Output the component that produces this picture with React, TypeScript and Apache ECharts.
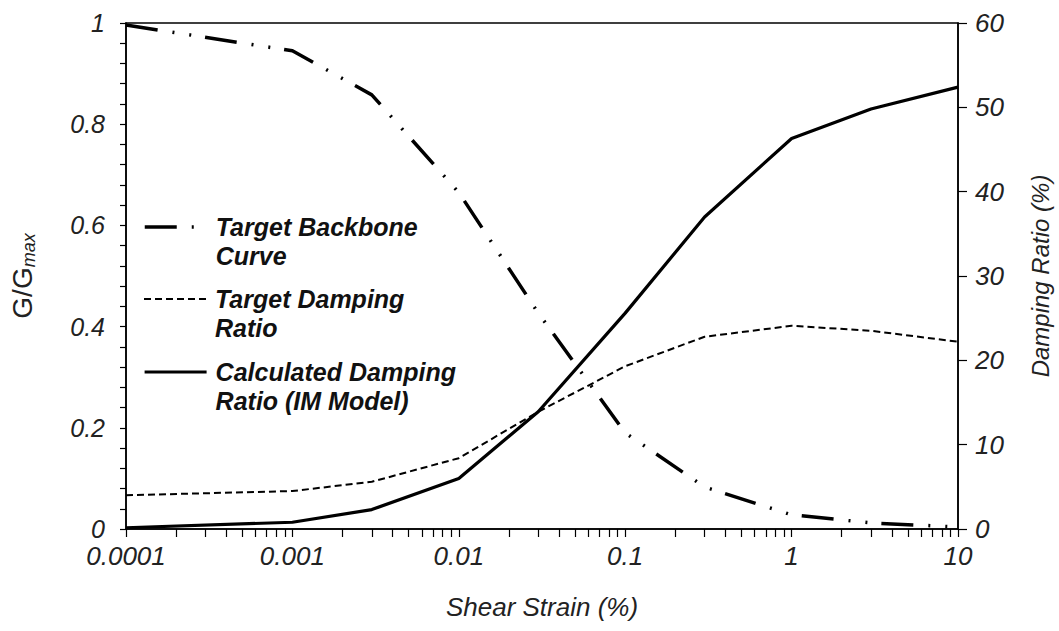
import React, { useEffect, useRef } from "react";
import * as echarts from "echarts";

// Shear strain (%) at which each curve is sampled
const strain = [0.0001, 0.001, 0.003, 0.01, 0.03, 0.1, 0.3, 1, 3, 10];
// G/Gmax of the target backbone curve (left axis)
const backbone = [0.996, 0.945, 0.858, 0.665, 0.427, 0.19, 0.083, 0.028, 0.012, 0.004];
// Target damping ratio, % (right axis)
const targetDamping = [4.0, 4.5, 5.6, 8.4, 13.9, 19.3, 22.8, 24.1, 23.5, 22.2];
// Damping ratio calculated with the IM model, % (right axis)
const calcDamping = [0.15, 0.8, 2.3, 6.0, 13.9, 25.6, 37.0, 46.3, 49.8, 52.4];

const xMajorTicks = [0.0001, 0.001, 0.01, 0.1, 1, 10];
const seriesNames = ["Target Backbone Curve", "Target Damping Ratio", "Calculated Damping Ratio (IM Model)"];
// Leading blank line keeps the key line level with the first text line
const legendLabels = ["\nTarget Backbone\nCurve", "\nTarget Damping\nRatio", "\nCalculated Damping\nRatio (IM Model)"];
const lineWidths = [3.5, 2, 3.2];

const FONT = '"Liberation Sans", Arial, Helvetica, sans-serif';

// Major decades plus 2..9 within each decade
const xAllTicks: number[] = [];
for (let d = 0; d < xMajorTicks.length; d++) {
  const base = xMajorTicks[d];
  xAllTicks.push(base);
  if (d < xMajorTicks.length - 1) {
    for (let k = 2; k <= 9; k++) xAllTicks.push(Number((base * k).toPrecision(6)));
  }
}

const pairs = (ys: number[]) => strain.map((x, i) => [x, ys[i]]);

export default function App() {
  const ref = useRef<HTMLDivElement>(null);

  useEffect(() => {
    document.body.style.margin = "0";
    if (!ref.current) return;
    const chart = echarts.init(ref.current, undefined, { renderer: "svg" });

    const legendTops = [183.5, 255.5, 328.5];
    const legends = seriesNames.map((name, i) => ({
      data: [name],
      left: 143,
      top: legendTops[i],
      orient: "vertical",
      padding: 0,
      itemWidth: 62,
      itemHeight: 14,
      selectedMode: false,
      itemStyle: { opacity: 0 },
      lineStyle: { width: lineWidths[i] },
      formatter: () => legendLabels[i],
      textStyle: {
        fontFamily: FONT,
        fontSize: 25,
        fontWeight: "bold",
        fontStyle: "italic",
        color: "#111",
        lineHeight: 29,
        padding: [0, 0, 0, 4],
      },
    }));

    const labelStyle = {
      fontFamily: FONT,
      fontSize: 25,
      fontStyle: "italic",
      color: "#222",
    };

    chart.setOption({
      animation: false,
      backgroundColor: "#fff",
      grid: {
        left: 126,
        right: 101,
        top: 23,
        bottom: 102,
        show: true,
        borderColor: "#000",
        borderWidth: 1.5,
        containLabel: false,
        outerBoundsMode: "none",
      },
      legend: legends,
      xAxis: {
        type: "log",
        logBase: 10,
        min: 0.0001,
        max: 10,
        name: "Shear Strain (%)",
        nameLocation: "middle",
        nameGap: 65,
        nameTextStyle: { ...labelStyle, fontSize: 26 },
        axisLine: { show: true, lineStyle: { color: "#000", width: 1.5 } },
        axisTick: {
          show: true,
          inside: false,
          length: 8,
          customValues: xAllTicks,
          lineStyle: { color: "#000", width: 1.2 },
        },
        axisLabel: {
          ...labelStyle,
          fontSize: 26,
          lineHeight: 20,
          margin: 17,
          customValues: xMajorTicks,
          formatter: (v: number) => String(v),
        },
        splitLine: { show: false },
        minorTick: { show: false },
      },
      yAxis: [
        {
          type: "value",
          position: "left",
          min: 0,
          max: 1,
          interval: 0.2,
          name: "{a|G/G}{b|max}",
          nameLocation: "middle",
          nameRotate: 90,
          nameGap: 88,
          nameTextStyle: {
            rich: {
              a: { fontFamily: FONT, fontSize: 28, color: "#222" },
              b: { fontFamily: FONT, fontSize: 18, fontStyle: "italic", color: "#222", padding: [14, 0, 0, 0] },
            },
          },
          axisLine: { show: true, lineStyle: { color: "#000", width: 1.5 } },
          axisTick: { show: true, inside: false, length: 6, lineStyle: { color: "#000", width: 1.2 } },
          minorTick: { show: true, splitNumber: 5, length: 6, lineStyle: { color: "#000", width: 1.2 } },
          axisLabel: {
            ...labelStyle,
            lineHeight: 18,
            margin: 21,
            formatter: (v: number) => String(Number(v.toFixed(1))),
          },
          splitLine: { show: false },
        },
        {
          type: "value",
          position: "right",
          min: 0,
          max: 60,
          interval: 10,
          name: "Damping Ratio (%)",
          nameLocation: "middle",
          nameRotate: 90,
          nameGap: 70,
          nameTextStyle: { ...labelStyle, fontSize: 24 },
          axisLine: { show: true, lineStyle: { color: "#000", width: 1.5 } },
          axisTick: { show: true, inside: false, length: 9, lineStyle: { color: "#000", width: 1.2 } },
          axisLabel: { ...labelStyle, fontSize: 26, lineHeight: 20, margin: 17 },
          splitLine: { show: false },
        },
      ],
      series: [
        {
          name: seriesNames[0],
          type: "line",
          yAxisIndex: 0,
          data: pairs(backbone),
          symbol: "none",
          smooth: false,
          color: "#000",
          lineStyle: { color: "#000", width: lineWidths[0], type: [32, 15, 2, 15, 2, 14], cap: "butt" },
        },
        {
          name: seriesNames[1],
          type: "line",
          yAxisIndex: 1,
          data: pairs(targetDamping),
          symbol: "none",
          smooth: false,
          color: "#000",
          lineStyle: { color: "#000", width: lineWidths[1], type: [7, 4] },
        },
        {
          name: seriesNames[2],
          type: "line",
          yAxisIndex: 1,
          data: pairs(calcDamping),
          symbol: "none",
          smooth: false,
          color: "#000",
          lineStyle: { color: "#000", width: lineWidths[2], type: "solid" },
        },
      ],
    });

    return () => chart.dispose();
  }, []);

  return <div ref={ref} style={{ width: 1059, height: 631 }} />;
}
